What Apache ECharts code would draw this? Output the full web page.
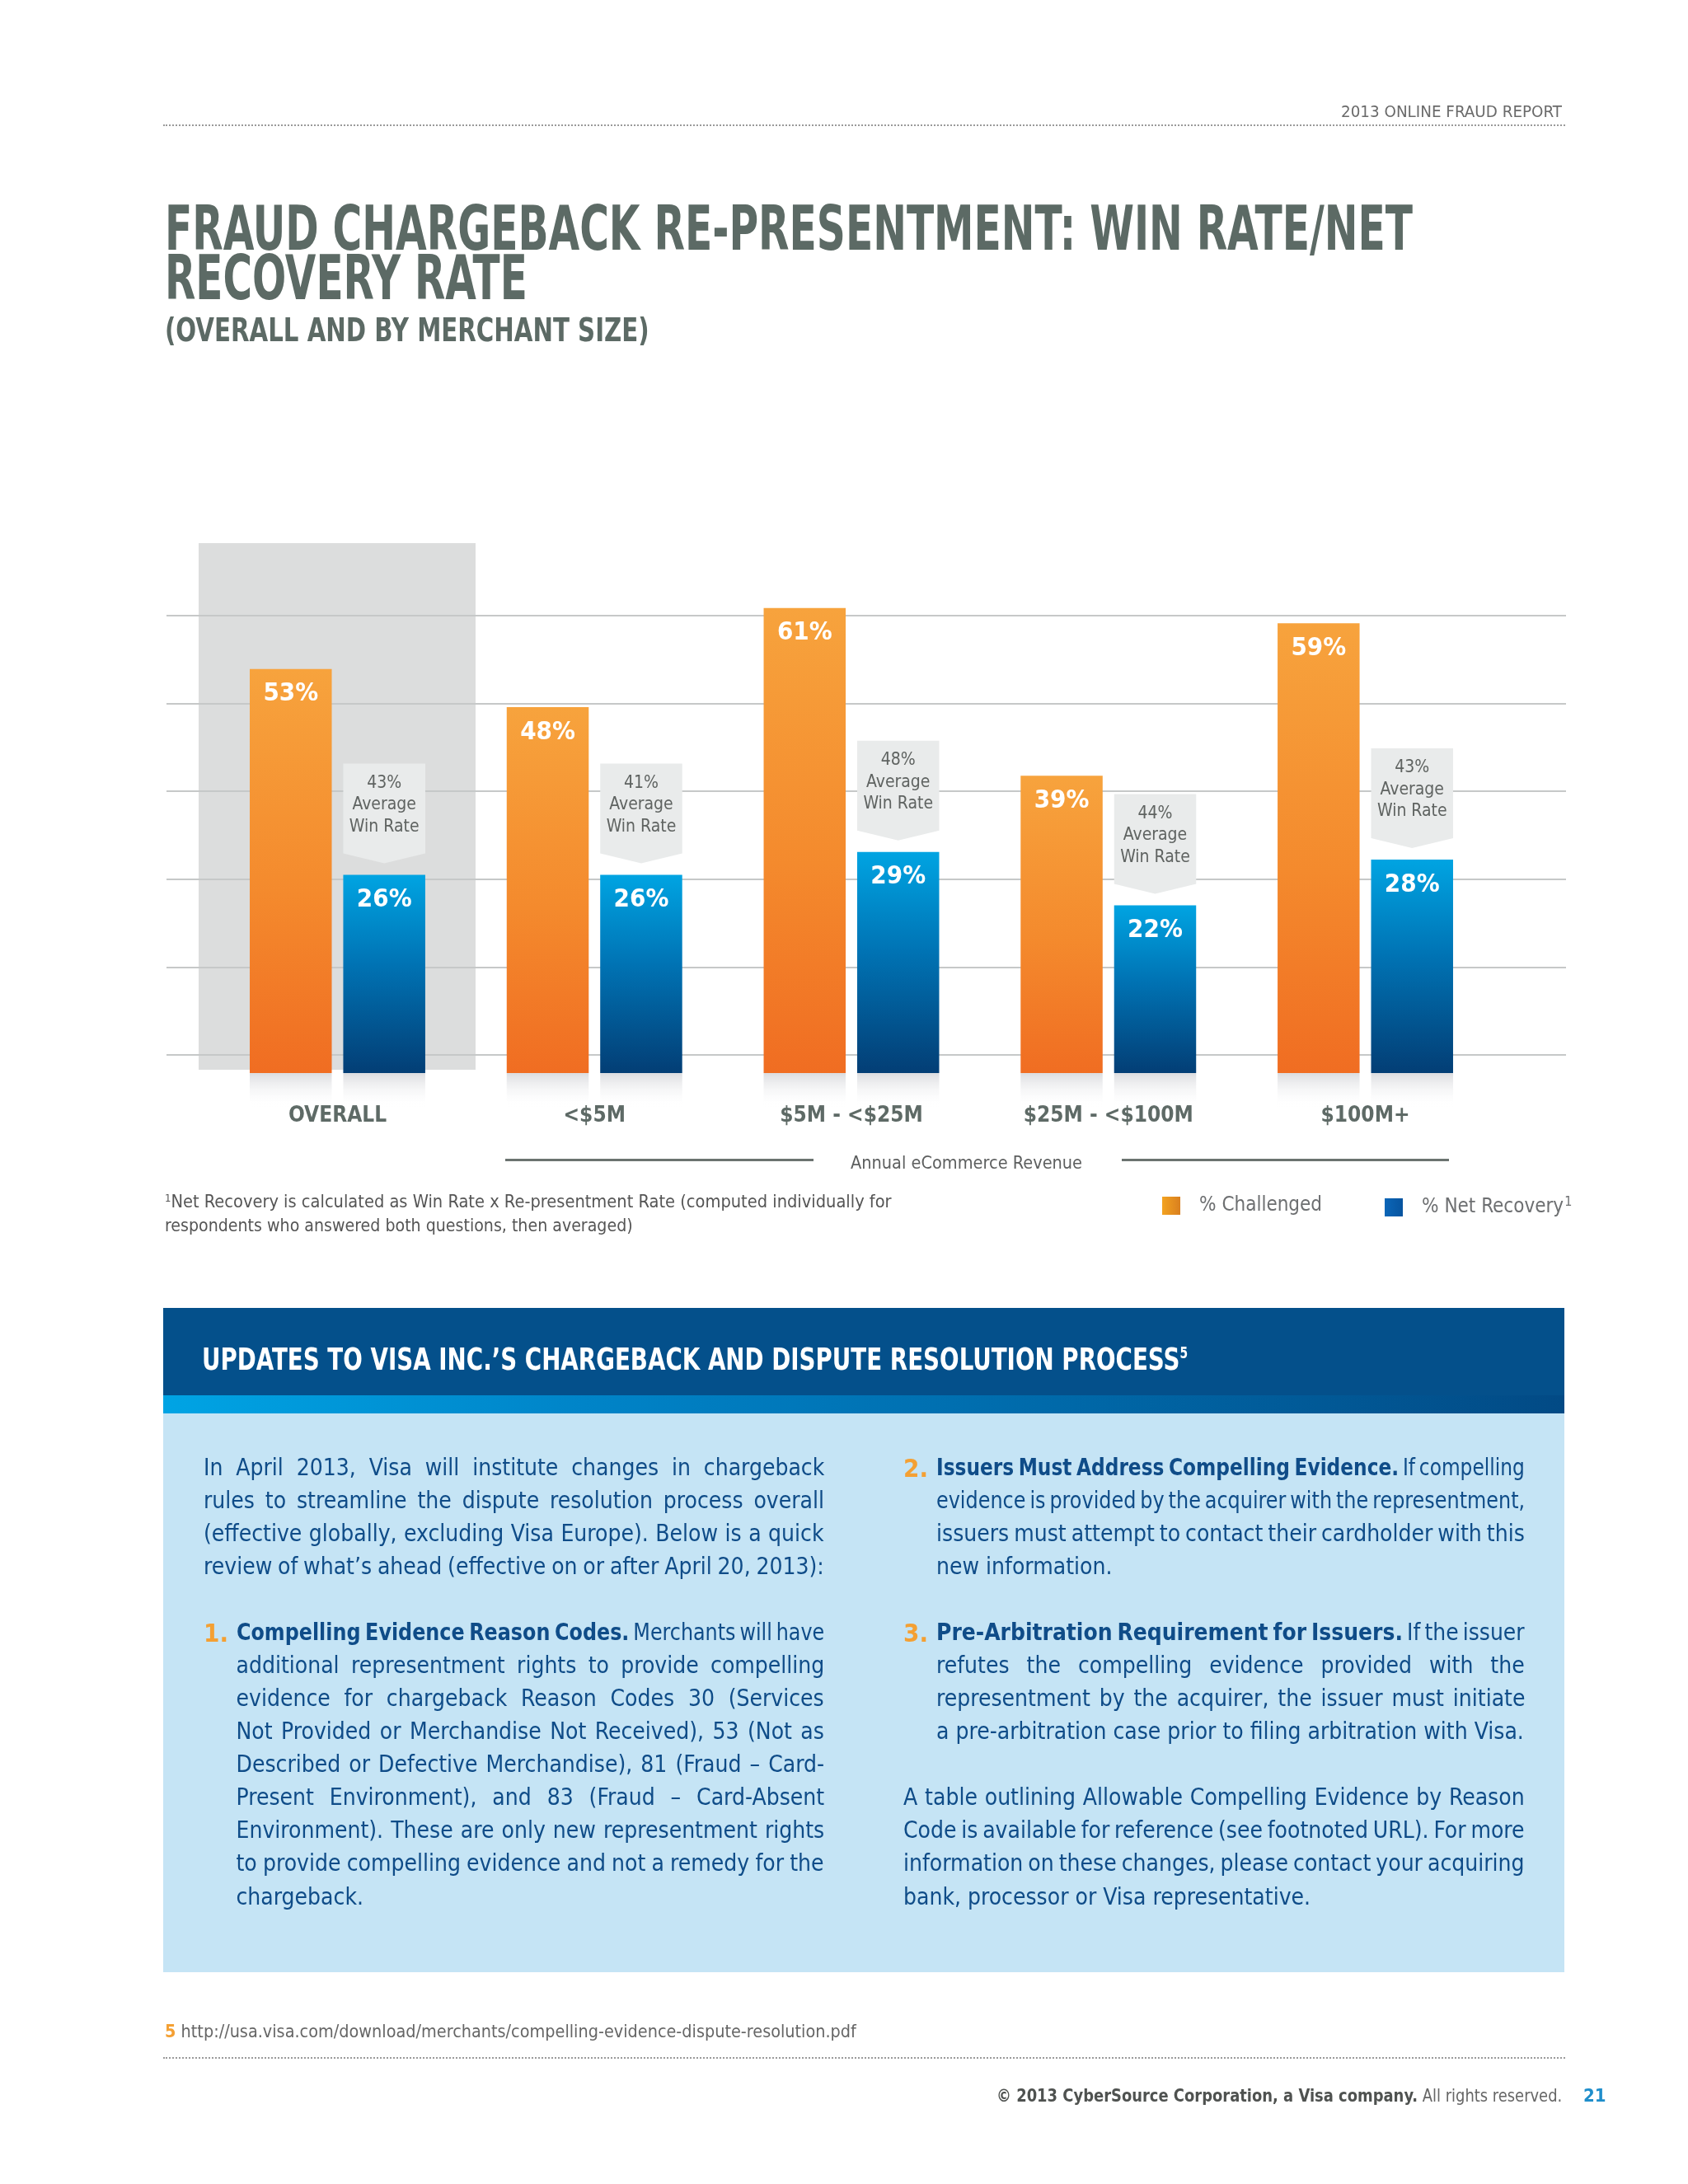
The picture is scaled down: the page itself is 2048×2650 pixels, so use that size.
<!DOCTYPE html>
<html>
<head>
<meta charset="utf-8">
<script src="https://cdn.jsdelivr.net/npm/echarts@6/dist/echarts.min.js"></script>
<style>
html,body{margin:0;padding:0;background:#fff;}
#page{position:relative;width:2048px;height:2650px;overflow:hidden;background:#fff;}
#chart{position:absolute;left:0;top:0;width:2048px;height:2650px;z-index:2;}
#hl{position:absolute;z-index:1;background:#dcdddd;}
.deco{position:absolute;z-index:0;}
.abs{position:absolute;white-space:nowrap;z-index:3;}
.fit{display:inline-block;transform-origin:0 50%;white-space:nowrap;}
.dots{position:absolute;left:198px;width:1701px;height:0;border-top:2px dotted #9a9a9a;z-index:3;}
sup{line-height:0;}
</style>
</head>
<body>
<div id="page">
  <div id="hl"></div>
  <div id="chart"></div>
</div>
<script>
// ---------------- data ----------------
const categories = ['OVERALL', '<$5M', '$5M - <$25M', '$25M - <$100M', '$100M+'];
const challenged = [53, 48, 61, 39, 59];
const netRecovery = [26, 26, 29, 22, 28];
const avgWinRate = [43, 41, 48, 44, 43];
const seriesNames = ['% Challenged', '% Net Recovery'];

// ---------------- fonts ----------------
function hasFont(f){
  const c = document.createElement('canvas').getContext('2d');
  const s = 'mmmmmmmmmmlliWWQ@#12ABCabc';
  c.font = '72px monospace'; const a = c.measureText(s).width;
  c.font = '72px "' + f + '", monospace'; const b = c.measureText(s).width;
  return Math.abs(a - b) > 0.5;
}
const NARROW = hasFont('Liberation Sans Narrow') ? 'Liberation Sans Narrow'
             : (hasFont('DejaVu Sans Condensed') ? 'DejaVu Sans Condensed' : 'Liberation Sans');
const IS_LIB = NARROW === 'Liberation Sans Narrow';
const FS = IS_LIB ? 1 : 0.86;
const FONT_CSS = '"' + NARROW + '", "Liberation Sans", sans-serif';

// ---------------- layout constants ----------------
const BAR_W = 99.5;
const GAP_PX = 14;
const OFFSET = (BAR_W + GAP_PX) / 2;

const page = document.getElementById('page');

function place(html, o){
  const lh = o.lh || Math.round(o.fs * 1.2);
  const d = document.createElement('div');
  d.className = 'abs';
  d.style.top = (o.cy - lh / 2) + 'px';
  d.style.height = lh + 'px';
  d.style.lineHeight = lh + 'px';
  d.style.fontSize = o.fs + 'px';
  d.style.fontFamily = FONT_CSS;
  d.style.fontWeight = o.weight || 'normal';
  d.style.color = o.color || '#333';
  const s = document.createElement('span');
  s.className = 'fit';
  s.innerHTML = html;
  d.appendChild(s);
  d.style.left = '0px';
  page.appendChild(d);
  let w = s.offsetWidth;
  let scale = 1;
  if (o.w) {
    if (o.justify) {
      const n = (s.textContent.match(/ /g) || []).length;
      if (n > 0) {
        let ws = (o.w - w) / n;
        if (ws < -0.1 * o.fs) ws = -0.1 * o.fs;
        s.style.wordSpacing = ws + 'px';
        w = s.offsetWidth;
      }
      scale = o.w / w;
    } else if (o.exact) {
      scale = o.w / w;
    } else if (w > o.w) {
      scale = o.w / w;
    }
  }
  if (Math.abs(scale - 1) > 0.002) s.style.transform = 'scaleX(' + scale + ')';
  const fw = w * scale;
  if (o.right !== undefined) d.style.left = (o.right - fw) + 'px';
  else d.style.left = o.left + 'px';
  return d;
}
function box(css){
  const d = document.createElement('div');
  d.className = 'deco';
  Object.assign(d.style, css);
  page.appendChild(d);
  return d;
}

// ---------------- page header ----------------
place('2013 ONLINE FRAUD REPORT', {right:1895, cy:135, fs:20, w:268, exact:true, color:'#6a6a6a'});
const dl1 = document.createElement('div'); dl1.className = 'dots'; dl1.style.top = '151px'; page.appendChild(dl1);

const TITLE_C = '#5c6a65';
place('FRAUD CHARGEBACK RE-PRESENTMENT: WIN RATE/NET', {left:200, cy:276.5, fs:74, lh:74, w:1514, exact:true, weight:'bold', color:TITLE_C});
place('RECOVERY RATE', {left:200, cy:336.5, fs:74, lh:74, w:440, exact:true, weight:'bold', color:TITLE_C});
place('(OVERALL AND BY MERCHANT SIZE)', {left:200, cy:401, fs:39, lh:44, w:588, exact:true, weight:'bold', color:TITLE_C});

// ---------------- chart annotations (html) ----------------
place('Annual eCommerce Revenue', {left:1032, cy:1411, fs:22, w:281, exact:true, color:'#5d5f5f'});
box({left:'613px', top:'1406px', width:'374px', height:'3px', background:'#6b7370', zIndex:3});
box({left:'1361px', top:'1406px', width:'397px', height:'3px', background:'#6b7370', zIndex:3});
place('<sup style="font-size:0.6em;vertical-align:0.55em">1</sup>Net Recovery is calculated as Win Rate x Re-presentment Rate (computed individually for',
      {left:200, cy:1458, fs:21, w:882, exact:true, color:'#555'});
place('respondents who answered both questions, then averaged)', {left:200, cy:1487, fs:21, w:568, exact:true, color:'#555'});

// ---------------- blue box ----------------
box({left:'198px', top:'1587px', width:'1700px', height:'106px', background:'#04508b'});
box({left:'198px', top:'1693px', width:'1700px', height:'22px', background:'linear-gradient(to right,#00a4e4 0%,#0084c8 30%,#0068a8 65%,#024a85 100%)'});
box({left:'198px', top:'1715px', width:'1700px', height:'678px', background:'#c5e4f5'});
place('UPDATES TO VISA INC.’S CHARGEBACK AND DISPUTE RESOLUTION PROCESS<sup style="font-size:0.5em;vertical-align:0.75em">5</sup>',
      {left:245, cy:1649, fs:38, lh:44, w:1196, exact:true, weight:'bold', color:'#ffffff'});

const BODY_C = '#0f4c88';
const ORANGE_T = '#f4a033';
const ROW0 = 1780.6, PITCH = 40.07;
function bodyLine(t, row, left, w, justify){
  place(t, {left:left, cy:ROW0 + PITCH * row, fs:28, lh:40, w:w, justify:justify, color:BODY_C});
}
function num(t, row, left){
  place(t, {left:left, cy:ROW0 + PITCH * row, fs:31, lh:40, weight:'bold', color:ORANGE_T});
}
// left column
const L0 = 247, L1 = 286.5, LR = 1000;
bodyLine('In April 2013, Visa will institute changes in chargeback', 0, L0, LR - L0, true);
bodyLine('rules to streamline the dispute resolution process overall', 1, L0, LR - L0, true);
bodyLine('(effective globally, excluding Visa Europe). Below is a quick', 2, L0, LR - L0, true);
bodyLine('review of what’s ahead (effective on or after April 20, 2013):', 3, L0, LR - L0, true);
num('1.', 5, L0);
bodyLine('<b>Compelling Evidence Reason Codes.</b> Merchants will have', 5, L1, LR - L1, true);
bodyLine('additional representment rights to provide compelling', 6, L1, LR - L1, true);
bodyLine('evidence for chargeback Reason Codes 30 (Services', 7, L1, LR - L1, true);
bodyLine('Not Provided or Merchandise Not Received), 53 (Not as', 8, L1, LR - L1, true);
bodyLine('Described or Defective Merchandise), 81 (Fraud – Card-', 9, L1, LR - L1, true);
bodyLine('Present Environment), and 83 (Fraud – Card-Absent', 10, L1, LR - L1, true);
bodyLine('Environment). These are only new representment rights', 11, L1, LR - L1, true);
bodyLine('to provide compelling evidence and not a remedy for the', 12, L1, LR - L1, true);
bodyLine('chargeback.', 13, L1, LR - L1, false);
// right column
const R0 = 1096, R1 = 1136, RR = 1850;
num('2.', 0, R0);
bodyLine('<b>Issuers Must Address Compelling Evidence.</b> If compelling', 0, R1, RR - R1, true);
bodyLine('evidence is provided by the acquirer with the representment,', 1, R1, RR - R1, true);
bodyLine('issuers must attempt to contact their cardholder with this', 2, R1, RR - R1, true);
bodyLine('new information.', 3, R1, RR - R1, false);
num('3.', 5, R0);
bodyLine('<b>Pre-Arbitration Requirement for Issuers.</b> If the issuer', 5, R1, RR - R1, true);
bodyLine('refutes the compelling evidence provided with the', 6, R1, RR - R1, true);
bodyLine('representment by the acquirer, the issuer must initiate', 7, R1, RR - R1, true);
bodyLine('a pre-arbitration case prior to filing arbitration with Visa.', 8, R1, RR - R1, false);
bodyLine('A table outlining Allowable Compelling Evidence by Reason', 10, R0, RR - R0, true);
bodyLine('Code is available for reference (see footnoted URL). For more', 11, R0, RR - R0, true);
bodyLine('information on these changes, please contact your acquiring', 12, R0, RR - R0, true);
bodyLine('bank, processor or Visa representative.', 13, R0, RR - R0, false);

// ---------------- footer ----------------
place('<b style="color:#f4a033">5</b> http://usa.visa.com/download/merchants/compelling-evidence-dispute-resolution.pdf',
      {left:200, cy:2465, fs:21, w:839, exact:true, color:'#666'});
const dl2 = document.createElement('div'); dl2.className = 'dots'; dl2.style.top = '2496px'; page.appendChild(dl2);
place('<b style="color:#4f5250">© 2013 CyberSource Corporation, a Visa company.</b> All rights reserved.',
      {right:1895, cy:2543, fs:21, w:686, exact:true, color:'#666'});
place('21', {left:1921, cy:2543, fs:22, weight:'bold', color:'#1f8ecb'});

// ---------------- chart ----------------
const chart = echarts.init(document.getElementById('chart'), null, {renderer:'canvas'});

const orangeGrad = new echarts.graphic.LinearGradient(0, 0, 0, 1, [
  {offset:0, color:'#f7a33d'}, {offset:0.55, color:'#f48a2d'}, {offset:1, color:'#f06d22'}]);
const blueGrad = new echarts.graphic.LinearGradient(0, 0, 0, 1, [
  {offset:0, color:'#00a4e2'}, {offset:0.45, color:'#0073b4'}, {offset:1, color:'#033e75'}]);
const orangeIcon = new echarts.graphic.LinearGradient(0, 0, 1, 0, [
  {offset:0, color:'#f3a320'}, {offset:1, color:'#d97f1f'}]);
const blueIcon = new echarts.graphic.LinearGradient(0, 0, 1, 0, [
  {offset:0, color:'#0b66b8'}, {offset:1, color:'#07549f'}]);

const barLabel = {
  show:true, position:'insideTop', distance:15, formatter:'{c}%',
  color:'#ffffff', fontWeight:'bold', fontSize:IS_LIB ? 34 : 31, fontFamily:NARROW
};
const legendText = {fontFamily:NARROW, fontSize:Math.round(28 * FS), color:'#6d6f71', padding:[0, 0, 0, 18]};

const option = {
  animation:false,
  grid:[
    {left:253.6, right:235.6, top:654.5, bottom:1306.4},
    {left:202, right:148, top:746.7, bottom:1370}
  ],
  xAxis:[
    {type:'category', gridIndex:0, data:categories,
     axisLine:{show:false}, axisTick:{show:false},
     axisLabel:{margin:-2, color:'#5e6a66', fontFamily:NARROW, fontWeight:'bold', fontSize:IS_LIB ? 29 : 26}},
    {type:'value', gridIndex:1, show:false, min:0, max:1}
  ],
  yAxis:[
    {type:'value', gridIndex:0, min:-4.5, max:70, show:false},
    {type:'value', gridIndex:1, min:0, max:5, interval:1,
     axisLine:{show:false}, axisTick:{show:false}, axisLabel:{show:false},
     splitLine:{show:true, lineStyle:{color:'#c6c8c8', width:2}}}
  ],
  legend:[
    {data:[{name:seriesNames[0], itemStyle:{color:orangeIcon}}], left:1405, top:1446, icon:'rect',
     itemWidth:22, itemHeight:22, selectedMode:false, textStyle:legendText},
    {data:[{name:seriesNames[1], itemStyle:{color:blueIcon}}], left:1675, top:1446, icon:'rect',
     itemWidth:22, itemHeight:22, selectedMode:false,
     formatter:function(n){ return n + '{sup|1}'; },
     textStyle:Object.assign({}, legendText, {
       rich:{sup:{fontFamily:NARROW, fontSize:16, color:'#6d6f71', verticalAlign:'top', padding:[0, 0, 12, 1]}}})}
  ],
  series:[
    {name:seriesNames[0], type:'bar', xAxisIndex:0, yAxisIndex:0, data:challenged,
     barWidth:BAR_W, barGap:'14%', itemStyle:{color:orangeGrad}, label:barLabel, z:3},
    {name:seriesNames[1], type:'bar', xAxisIndex:0, yAxisIndex:0, data:netRecovery,
     barWidth:BAR_W, barGap:'14%', itemStyle:{color:blueGrad}, label:barLabel, z:3},
    {type:'custom', name:'reflection', xAxisIndex:0, yAxisIndex:0, silent:true, z:1,
     data:categories.map(function(c, i){ return [i, 0]; }),
     renderItem:function(params, api){
       const i = api.value(0);
       const p0 = api.coord([i, 0]);
       const p1 = api.coord([i, -4.5]);
       const h = p1[1] - p0[1];
       const g = new echarts.graphic.LinearGradient(0, 0, 0, 1, [
         {offset:0, color:'#dcdde0'}, {offset:1, color:'rgba(255,255,255,0)'}]);
       return {type:'group', children:[
         {type:'rect', shape:{x:p0[0] - OFFSET - BAR_W / 2, y:p0[1], width:BAR_W, height:h}, style:{fill:g}},
         {type:'rect', shape:{x:p0[0] + OFFSET - BAR_W / 2, y:p0[1], width:BAR_W, height:h}, style:{fill:g}}
       ]};
     }},
    {type:'custom', name:'callout', xAxisIndex:0, yAxisIndex:0, silent:true, z:4,
     data:categories.map(function(c, i){ return [i, netRecovery[i], avgWinRate[i]]; }),
     renderItem:function(params, api){
       const i = api.value(0);
       const p = api.coord([i, api.value(1)]);
       const x = p[0] + OFFSET, y = p[1];
       const hw = BAR_W / 2;
       const top = y - 135, rb = y - 26, tip = y - 14;
       return {type:'group', children:[
         {type:'polygon', shape:{points:[[x - hw, top], [x + hw, top], [x + hw, rb], [x, tip], [x - hw, rb]]},
          style:{fill:'#e9ebeb'}},
         {type:'text', x:x, y:top + 10.75,
          style:{text:api.value(2) + '%\nAverage\nWin Rate', fill:'#5f6361',
                 fontSize:Math.round(24 * FS), fontFamily:NARROW, align:'center', verticalAlign:'top', lineHeight:26.5}}
       ]};
     }}
  ]
};
chart.setOption(option);

// grey highlight panel behind the OVERALL group
const cx = chart.convertToPixel({xAxisIndex:0}, categories[0]);
const hl = document.getElementById('hl');
hl.style.left = (cx - 168) + 'px';
hl.style.width = '336px';
hl.style.top = '659px';
hl.style.height = '639px';
</script>
</body>
</html>
